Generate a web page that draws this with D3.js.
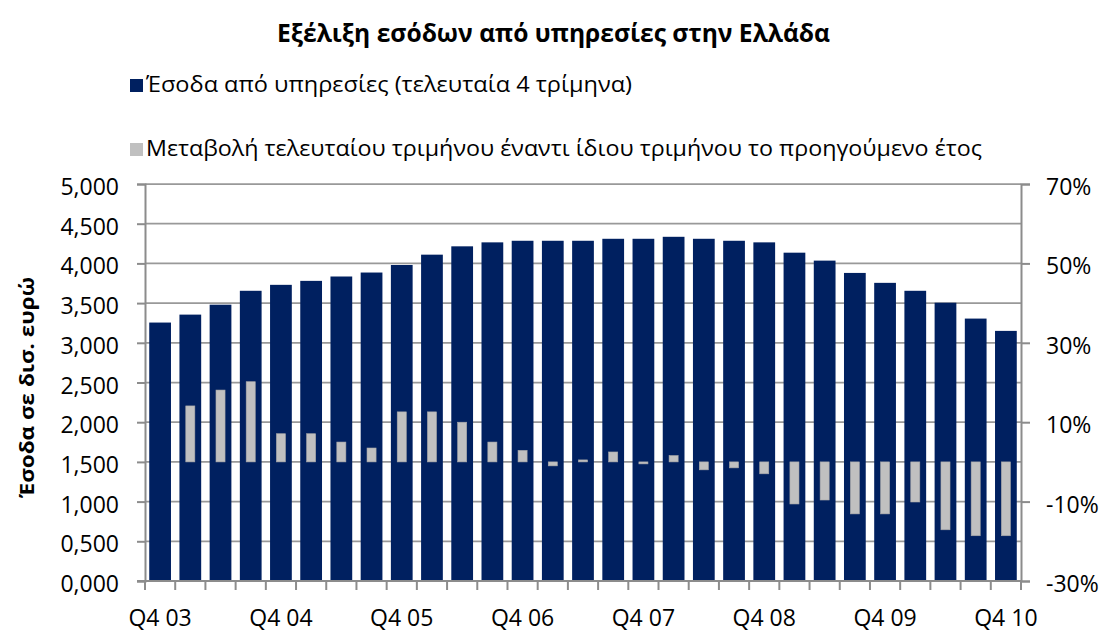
<!DOCTYPE html>
<html>
<head>
<meta charset="utf-8">
<script src="https://cdn.jsdelivr.net/npm/d3@7"></script>
<style>
  body { margin: 0; background: #fff; }
  text { font-family: "Open Sans", "Noto Sans", sans-serif; fill: #000; }
</style>
</head>
<body>
<script>

var quarters = ["Q4 03", "Q1 04", "Q2 04", "Q3 04", "Q4 04", "Q1 05", "Q2 05", "Q3 05",
  "Q4 05", "Q1 06", "Q2 06", "Q3 06", "Q4 06", "Q1 07", "Q2 07", "Q3 07",
  "Q4 07", "Q1 08", "Q2 08", "Q3 08", "Q4 08", "Q1 09", "Q2 09", "Q3 09",
  "Q4 09", "Q1 10", "Q2 10", "Q3 10", "Q4 10"];

// rolling 4-quarter revenue (left axis)
var revenue = [3255, 3355, 3480, 3655, 3730, 3780, 3835, 3885, 3980, 4110, 4215, 4265,
  4285, 4285, 4285, 4310, 4310, 4335, 4310, 4285, 4265, 4135, 4035, 3880,
  3755, 3655, 3505, 3305, 3150];

// yoy change of last quarter, % (right axis)
var change = [null, 14.1, 18.1, 20.2, 7.1, 7.1, 5.0, 3.5, 12.6, 12.6, 10.0, 5.0,
  2.9, -1.0, 0.5, 2.5, -0.5, 1.6, -2.0, -1.5, -3.0, -10.6, -9.6, -13.1,
  -13.1, -10.1, -17.1, -18.6, -18.6];

var xLabels = ["Q4 03", "Q4 04", "Q4 05", "Q4 06", "Q4 07", "Q4 08", "Q4 09", "Q4 10"];

var leftTicks = [0, 500, 1000, 1500, 2000, 2500, 3000, 3500, 4000, 4500, 5000];
var leftTickLabels = ["0,000", "0,500", "1,000", "1,500", "2,000", "2,500",
  "3,000", "3,500", "4,000", "4,500", "5,000"];

var rightTicks = [-30, -10, 10, 30, 50, 70];
var rightTickLabels = ["-30%", "-10%", "10%", "30%", "50%", "70%"];

var titleText = "Εξέλιξη εσόδων  από υπηρεσίες στην Ελλάδα";
var legendNames = ["Έσοδα από υπηρεσίες (τελευταία 4 τρίμηνα)",
  "Μεταβολή τελευταίου τριμήνου έναντι ίδιου τριμήνου το προηγούμενο έτος"];
var yTitle = "Έσοδα σε δισ. ευρώ";

var navy = "#002060",
    grey = "#c0c0c0",
    axisColor = "#8c8c8c";

var drawChart = function () {

  var width = 1104, height = 636;
  var plot = {left: 145, right: 1021, top: 184, bottom: 581};

  var svg = d3.select("body").append("svg")
    .attr("width", width)
    .attr("height", height);

  var x = d3.scaleBand()
    .domain(quarters)
    .range([plot.left, plot.right])
    .paddingInner(0.28)
    .paddingOuter(0.14);

  var step = x.step();

  var y = d3.scaleLinear()
    .domain([0, 5000])
    .range([plot.bottom, plot.top]);

  var yRight = d3.scaleLinear()
    .domain([-30, 70])
    .range([plot.bottom, plot.top]);

  // gridlines behind the bars
  svg.append("g")
    .attr("class", "grid")
    .selectAll("line")
    .data(leftTicks)
    .enter().append("line")
    .attr("x1", plot.left)
    .attr("x2", plot.right)
    .attr("y1", function(d) { return y(d); })
    .attr("y2", function(d) { return y(d); })
    .attr("stroke", "#999999")
    .attr("stroke-width", 1.75);

  svg.append("g")
    .attr("class", "revenue")
    .selectAll("rect")
    .data(revenue)
    .enter().append("rect")
    .attr("x", function(d, i) { return x(quarters[i]); })
    .attr("width", x.bandwidth())
    .attr("y", function(d) { return y(d); })
    .attr("height", function(d) { return y(0) - y(d); })
    .attr("fill", navy);

  var greyWidth = step * 0.3;

  svg.append("g")
    .attr("class", "change")
    .selectAll("rect")
    .data(change.map(function(d, i) { return { q: quarters[i], v: d }; })
      .filter(function(d) { return d.v !== null; }))
    .enter().append("rect")
    .attr("x", function(d) { return x(d.q) + x.bandwidth() / 2 - greyWidth / 2; })
    .attr("width", greyWidth)
    .attr("y", function(d) { return yRight(Math.max(d.v, 0)); })
    .attr("height", function(d) { return Math.abs(yRight(d.v) - yRight(0)); })
    .attr("fill", grey)
    .attr("stroke", "#a8a8a8")
    .attr("stroke-width", 0.6);

  // left axis
  var yAxis = d3.axisLeft(y)
    .tickValues(leftTicks)
    .tickFormat(function(d, i) { return leftTickLabels[i]; })
    .tickSize(8)
    .tickPadding(18);

  var gLeft = svg.append("g")
    .attr("transform", "translate(" + plot.left + ",0)")
    .call(yAxis);

  // right axis
  var yRightAxis = d3.axisRight(yRight)
    .tickValues(rightTicks)
    .tickFormat(function(d, i) { return rightTickLabels[i]; })
    .tickSize(9)
    .tickPadding(16);

  var gRight = svg.append("g")
    .attr("transform", "translate(" + plot.right + ",0)")
    .call(yRightAxis);

  // bottom axis: ticks between categories, labels every fourth quarter
  var gBottom = svg.append("g").attr("class", "x axis");

  gBottom.append("line")
    .attr("x1", plot.left - 8)
    .attr("x2", plot.right)
    .attr("y1", plot.bottom)
    .attr("y2", plot.bottom);

  gBottom.selectAll(".tick")
    .data(d3.range(quarters.length + 1))
    .enter().append("line")
    .attr("class", "tick")
    .attr("x1", function(i) { return plot.left + i * step; })
    .attr("x2", function(i) { return plot.left + i * step; })
    .attr("y1", plot.bottom)
    .attr("y2", plot.bottom + 9);

  gBottom.selectAll("line")
    .attr("stroke", axisColor)
    .attr("stroke-width", 2);

  gBottom.selectAll("text")
    .data(xLabels)
    .enter().append("text")
    .attr("x", function(d) { return x(d) + x.bandwidth() / 2; })
    .attr("y", 626)
    .attr("text-anchor", "middle")
    .style("font-size", "23px")
    .text(function(d) { return d; });

  [gLeft, gRight].forEach(function(g) {
    g.select(".domain").attr("stroke", axisColor).attr("stroke-width", 2);
    g.selectAll(".tick line").attr("stroke", axisColor).attr("stroke-width", 2);
    g.selectAll(".tick text")
      .attr("dy", null)
      .attr("y", 10.5)
      .style("font-size", "23px")
      .style("font-family", "'Open Sans', sans-serif")
      .attr("fill", "#000");
  });

  // title
  svg.append("text")
    .attr("x", 553.5)
    .attr("y", 42)
    .attr("text-anchor", "middle")
    .attr("textLength", 553)
    .attr("lengthAdjust", "spacingAndGlyphs")
    .style("font-size", "25px")
    .style("font-weight", "bold")
    .text(titleText);

  // legend
  var legendColors = [navy, grey];
  var legendY = [79, 143];
  var legendWidths = [486, 836];

  var legend = svg.append("g").attr("class", "legend")
    .selectAll("g")
    .data(legendNames)
    .enter().append("g");

  legend.append("rect")
    .attr("x", 130)
    .attr("y", function(d, i) { return legendY[i]; })
    .attr("width", 13)
    .attr("height", 13)
    .attr("fill", function(d, i) { return legendColors[i]; });

  legend.append("text")
    .attr("x", 146)
    .attr("y", function(d, i) { return legendY[i] + 13; })
    .attr("textLength", function(d, i) { return legendWidths[i]; })
    .attr("lengthAdjust", "spacingAndGlyphs")
    .style("font-size", "21.5px")
    .text(function(d) { return d; });

  // y axis title
  svg.append("text")
    .attr("transform", "translate(34," + ((plot.top + plot.bottom) / 2 + 5) + ") rotate(-90)")
    .attr("text-anchor", "middle")
    .attr("textLength", 221)
    .attr("lengthAdjust", "spacingAndGlyphs")
    .style("font-size", "20px")
    .style("font-weight", "bold")
    .text(yTitle);
};

drawChart();

</script>
</body>
</html>
